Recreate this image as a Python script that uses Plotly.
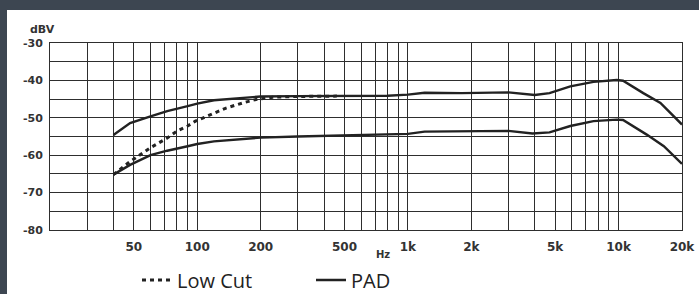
import math
import plotly.graph_objects as go

# ---- data ----
freq_upper = [40, 48, 60, 72, 90, 100, 120, 155, 200, 300, 500, 800, 1000, 1200,
              1800, 3000, 4000, 4700, 5900, 7600, 9800, 10500, 13100, 15800, 20000]
level_upper = [-54.6, -51.4, -49.6, -48.2, -46.9, -46.2, -45.3, -44.7, -44.3, -44.2,
               -44.2, -44.1, -43.8, -43.3, -43.4, -43.2, -43.9, -43.4, -41.6, -40.4,
               -39.9, -40.1, -43.4, -46.0, -51.8]

freq_pad = [40, 48, 60, 72, 90, 100, 120, 155, 200, 300, 500, 800, 1000, 1200,
            1800, 3000, 3900, 4700, 5900, 7600, 9800, 10500, 13600, 16400, 20000]
level_pad = [-65.2, -62.6, -60.0, -58.8, -57.6, -57.0, -56.3, -55.7, -55.3, -55.0,
             -54.7, -54.6, -54.3, -53.7, -53.6, -53.5, -54.2, -53.9, -52.2, -50.9,
             -50.5, -50.6, -54.5, -57.6, -62.3]

freq_lowcut = [40, 48, 60, 72, 80, 90, 98, 118, 137, 165, 190, 228, 300, 460]
level_lowcut = [-65.2, -61.7, -58.0, -55.4, -53.6, -52.2, -50.9, -48.9, -47.4,
                -46.0, -45.1, -44.5, -44.3, -44.2]

x_tick_vals = [20, 30, 40, 50, 60, 70, 80, 90, 100, 200, 300, 400, 500, 600, 700,
               800, 900, 1000, 2000, 3000, 4000, 5000, 6000, 7000, 8000, 9000,
               10000, 20000]
x_tick_text = ["", "", "", "50", "", "", "", "", "100", "200", "", "", "500", "",
               "", "", "", "1k", "2k", "", "", "5k", "", "", "", "", "10k", "20k"]
y_tick_vals = [-80, -75, -70, -65, -60, -55, -50, -45, -40, -35, -30]
y_tick_text = ["-80", "", "-70", "", "-60", "", "-50", "", "-40", "", "-30"]

GRID = "#2e2e2e"
INK = "#222222"
FRAME = "#3d4651"
tick_font = dict(family="DejaVu Sans", size=11, color="#333333", weight="bold")

fig = go.Figure()
fig.add_trace(go.Scatter(x=freq_upper, y=level_upper, mode="lines",
                         line=dict(color=INK, width=2.4), showlegend=False,
                         hoverinfo="skip"))
fig.add_trace(go.Scatter(x=freq_pad, y=level_pad, mode="lines", name="PAD",
                         line=dict(color=INK, width=2.4), showlegend=True))
fig.add_trace(go.Scatter(x=freq_lowcut, y=level_lowcut, mode="lines", name="Low Cut",
                         line=dict(color=INK, width=3, dash="4px,4px"),
                         showlegend=True))

L, R, T, B = 50, 17, 43, 64
W, H = 699, 294
pw, ph = W - L - R, H - T - B


def px_x(px):
    return (px - L) / pw


def px_y(py):
    return (H - B - py) / ph


fig.update_layout(
    width=W, height=H, autosize=False,
    margin=dict(l=L, r=R, t=T, b=B, pad=0, autoexpand=False),
    paper_bgcolor="white",
    plot_bgcolor="white",
    shapes=[
        dict(type="rect", xref="paper", yref="paper",
             x0=px_x(-5), x1=px_x(7), y0=px_y(H + 5), y1=px_y(-5),
             fillcolor=FRAME, line=dict(width=0), layer="below"),
        dict(type="rect", xref="paper", yref="paper",
             x0=px_x(-5), x1=px_x(W + 5), y0=px_y(10), y1=px_y(-5),
             fillcolor=FRAME, line=dict(width=0), layer="below"),
    ],
    xaxis=dict(type="log", range=[math.log10(20), math.log10(20000)],
               tickmode="array", tickvals=x_tick_vals, ticktext=x_tick_text,
               showgrid=True, gridcolor=GRID, gridwidth=1,
               showline=True, linecolor=GRID, linewidth=1, mirror=True,
               ticks="", tickfont=dict(family="DejaVu Sans", size=12,
                                      color="#333333", weight="bold"),
               ticklabelstandoff=6, zeroline=False, fixedrange=True),
    yaxis=dict(range=[-80, -30], tickmode="array", tickvals=y_tick_vals,
               ticktext=y_tick_text, showgrid=True, gridcolor=GRID, gridwidth=1,
               showline=True, linecolor=GRID, linewidth=1, mirror=True,
               ticks="", tickfont=tick_font, ticklabelstandoff=4,
               zeroline=False, fixedrange=True),
    legend=dict(orientation="h", x=px_x(137), xanchor="left",
                y=px_y(280), yanchor="middle",
                font=dict(family="Open Sans", size=20, color=INK),
                bgcolor="rgba(0,0,0,0)", traceorder="reversed",
                entrywidth=129, entrywidthmode="pixels"),
    annotations=[
        dict(text="dBV", xref="paper", yref="paper", x=px_x(28),
             y=px_y(30), xanchor="left", yanchor="middle",
             showarrow=False, font=dict(family="DejaVu Sans", size=11,
                                        color="#333333", weight="bold")),
        dict(text="Hz", xref="paper", yref="paper", x=px_x(383),
             y=px_y(254), xanchor="center", yanchor="middle",
             showarrow=False, font=dict(family="DejaVu Sans", size=10,
                                        color="#333333", weight="bold")),
    ],
)

fig.write_html(
    "out.html",
    config={"displayModeBar": False},
    post_script="document.body.style.margin='0';"
                "document.documentElement.style.overflow='hidden';",
)
